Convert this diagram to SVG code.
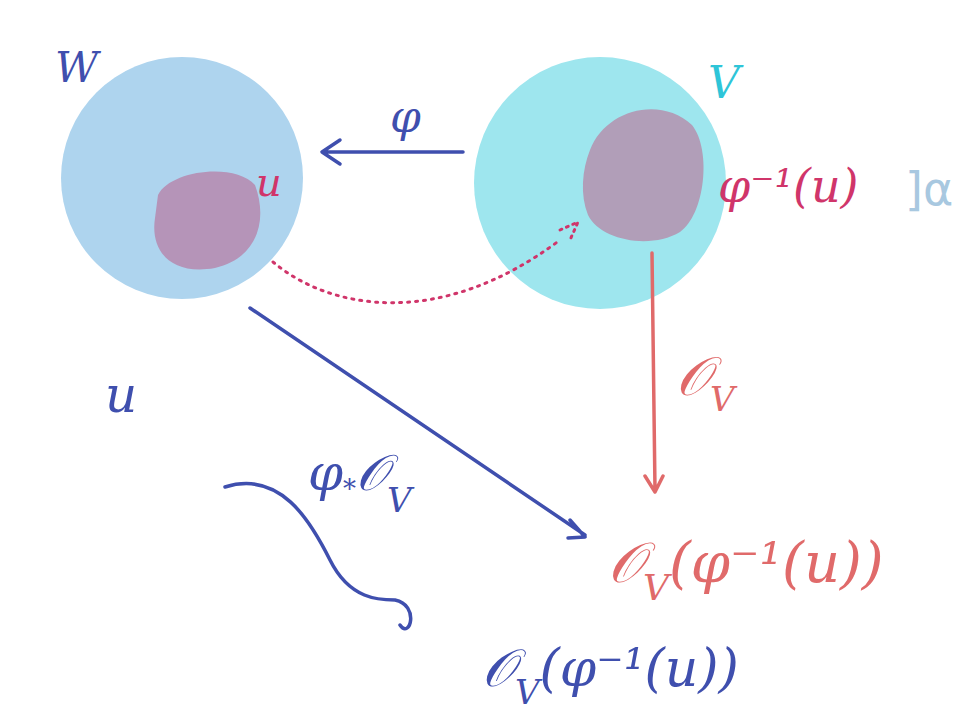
<svg xmlns="http://www.w3.org/2000/svg" width="959" height="722" viewBox="0 0 959 722">
<style>
.t{font-family:"DejaVu Serif","Liberation Serif",serif;font-style:italic}
.b{fill:#3f4fae}.r{fill:#e06a6a}.m{fill:#d0356a}
.ln{fill:none;stroke-width:3.5;stroke-linecap:round;stroke-linejoin:round}
</style>
<rect width="959" height="722" fill="#fff"/>
<g id="W">
<circle cx="182" cy="178" r="121" fill="#aed4ee"/>
<path d="M158 195 C170 170 235 162 255 185 C268 220 258 258 215 268 C170 276 150 250 155 218 Z" fill="#b594b8"/>
<text class="t b" x="55" y="82" font-size="42">W</text>
<text class="t m" x="256" y="196" font-size="40">u</text>
</g>
<g id="V">
<circle cx="600" cy="183" r="126" fill="#9ee6ee"/>
<path d="M590 150 C605 110 660 95 692 125 C712 150 705 215 680 232 C650 250 600 240 588 215 C580 195 582 170 590 150 Z" fill="#b19eb8"/>
<text class="t" x="708" y="98" font-size="44" fill="#2ec5d8">V</text>
<text class="t m" x="718" y="202" font-size="46">φ⁻¹(u)</text>
<text x="905" y="205" font-size="46" font-family="DejaVu Sans,sans-serif" fill="#a8c8e0">]α</text>
</g>
<g id="connectors">
<path class="ln" d="M463 152 H322 M340 140 L322 152 L340 164" stroke="#3f4fae"/>
<path d="M273 262 C330 310 440 330 560 240" fill="none" stroke="#d0356a" stroke-width="3" stroke-dasharray="2 6" stroke-linecap="round"/>
<path d="M560 230 L578 222 L570 240" fill="none" stroke="#d0356a" stroke-width="3" stroke-dasharray="2 5" stroke-linecap="round"/>
<path class="ln" d="M652 253 L655 490 M645 476 L655 492 L663 476" stroke="#e06a6a"/>
<path class="ln" d="M250 308 L585 535 M570 520 L585 537 L568 538" stroke="#3f4fae"/>
<path class="ln" d="M225 487 C280 470 310 520 330 560 C350 600 380 600 395 600 C420 605 410 640 400 625" stroke="#3f4fae"/>
</g>
<g id="labels">
<text class="t b" x="390" y="132" font-size="44">φ</text>
<text class="t r" x="676" y="395" font-size="54">𝒪<tspan font-size="34" dy="16">V</tspan></text>
<text class="t b" x="105" y="412" font-size="50">u</text>
<text class="t b" x="308" y="490" font-size="50">φ<tspan font-size="26" dy="8">*</tspan><tspan dy="-8">𝒪</tspan><tspan font-size="34" dy="22">V</tspan></text>
<text class="t r" x="608" y="582" font-size="56">𝒪<tspan font-size="36" dy="18">V</tspan><tspan dy="-18">(φ⁻¹(u))</tspan></text>
<text class="t b" x="482" y="686" font-size="52">𝒪<tspan font-size="34" dy="18">V</tspan><tspan dy="-18">(φ⁻¹(u))</tspan></text>
</g>
</svg>
